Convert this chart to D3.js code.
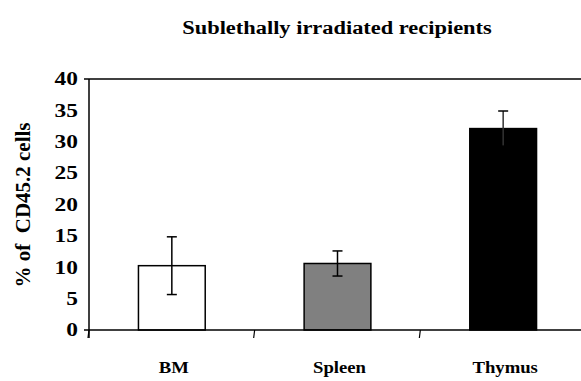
<!DOCTYPE html>
<html>
<head>
<meta charset="utf-8">
<script src="https://cdn.jsdelivr.net/npm/d3@7"></script>
<style>
  html, body { margin: 0; padding: 0; background: #fff; }
  svg { display: block; }
  text { font-family: "Liberation Serif", "Times New Roman", serif; font-weight: bold; fill: #000; }
</style>
</head>
<body>
<div id="chart"></div>
<script>
const categories = ["BM", "Spleen", "Thymus"];
const values = [10.25, 10.6, 32.1];
const errors = [4.6, 2.0, 2.8];
const fills = ["#ffffff", "#808080", "#000000"];
const yTicks = [0, 5, 10, 15, 20, 25, 30, 35, 40];
const title = "Sublethally irradiated recipients";
const yLabel = "% of  CD45.2 cells";

const W = 581, H = 381;
const svg = d3.select("#chart").append("svg").attr("width", W).attr("height", H);

const x = d3.scaleBand().domain(categories).range([89, 586]).padding(0);
const y = d3.scaleLinear().domain([0, 40]).range([330, 79]);
const barW = x.bandwidth() * 0.403;

// top line at 40
svg.append("line").attr("x1", 84).attr("x2", W).attr("y1", y(40)).attr("y2", y(40))
  .attr("stroke", "#000").attr("stroke-width", 1.5);

// bars
svg.selectAll("rect.bar").data(categories).join("rect")
  .attr("class", "bar")
  .attr("x", d => x(d) + x.bandwidth() / 2 - barW / 2)
  .attr("width", barW)
  .attr("y", (d, i) => y(values[i]))
  .attr("height", (d, i) => y(0) - y(values[i]))
  .attr("fill", (d, i) => fills[i])
  .attr("stroke", "#000").attr("stroke-width", 1.5);

// error bars
const eb = svg.append("g");
categories.forEach((c, i) => {
  const cx = x(c) + x.bandwidth() / 2;
  const y1 = y(values[i] + errors[i]), y0 = y(values[i] - errors[i]);
  eb.append("line").attr("x1", cx).attr("x2", cx).attr("y1", y1).attr("y2", y0)
    .attr("stroke", i === 2 ? "#333" : "#000").attr("stroke-width", 1.5);
  eb.append("line").attr("x1", cx - 5).attr("x2", cx + 5).attr("y1", y1).attr("y2", y1)
    .attr("stroke", "#000").attr("stroke-width", 1.5);
  eb.append("line").attr("x1", cx - 5).attr("x2", cx + 5).attr("y1", y0).attr("y2", y0)
    .attr("stroke", "#000").attr("stroke-width", 1.5);
});

// y axis
const yAxis = svg.append("g").attr("transform", "translate(89,0)")
  .call(d3.axisLeft(y).tickValues(yTicks).tickSize(0).tickPadding(0).tickFormat(d3.format("d")));
yAxis.select(".domain").attr("stroke", "#000").attr("stroke-width", 1.5).attr("d", "M0,79V338");
yAxis.selectAll("text").remove();
yTicks.forEach(t => {
  svg.append("text")
    .attr("transform", `translate(78,${y(t) + 6.3}) scale(1.3,1)`)
    .attr("text-anchor", "end").attr("font-size", 18).text(t);
});

// x axis
const xAxis = svg.append("g").attr("transform", "translate(0,330)")
  .call(d3.axisBottom(x).tickSize(0).tickFormat(""));
xAxis.select(".domain").attr("stroke", "#000").attr("stroke-width", 1.5).attr("d", `M84,0H${W}`);
[89, 89 + x.step(), 89 + 2 * x.step()].forEach(px => {
  svg.append("line").attr("x1", px).attr("x2", px - 1).attr("y1", 330).attr("y2", 338)
    .attr("stroke", "#000").attr("stroke-width", 1.2);
});
categories.forEach(c => {
  svg.append("text")
    .attr("transform", `translate(${x(c) + x.bandwidth() / 2 + 2},${373}) scale(1.1,1)`)
    .attr("text-anchor", "middle").attr("font-size", 17).text(c);
});

// title
svg.append("text")
  .attr("transform", `translate(337,34) scale(1.18,1)`)
  .attr("text-anchor", "middle").attr("font-size", 19).text(title);

// y label
svg.append("text")
  .attr("transform", `translate(30,205) rotate(-90)`)
  .attr("text-anchor", "middle").attr("font-size", 21).attr("xml:space", "preserve").text(yLabel);
</script>
</body>
</html>
